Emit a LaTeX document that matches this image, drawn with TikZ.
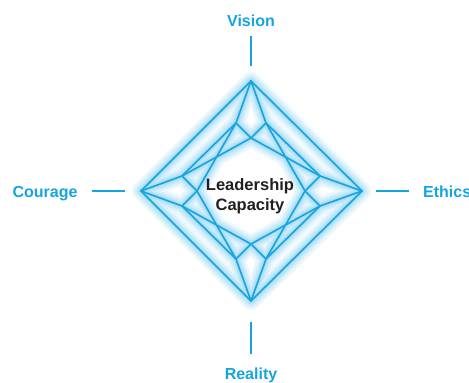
\documentclass[tikz,border=0pt]{standalone}
\usepackage{fontspec}
\setmainfont{Liberation Sans}
\usepackage{tikz}
\definecolor{gemblue}{RGB}{22,164,224}
\definecolor{darktext}{RGB}{35,31,32}

\begin{document}
\begin{tikzpicture}[line cap=round,line join=round,x=1pt,y=1pt,
  facet/.style={color=gemblue,line width=1.6pt},
  glow/.style={color=gemblue,line width=#1,opacity=0.09},
  valuename/.style={color=gemblue,font=\fontsize{16}{19}\selectfont\bfseries,inner sep=0pt},
  tick/.style={color=gemblue,line width=1.8pt,line cap=butt}]
\useasboundingbox (-251,-192) rectangle (218,191);

%kulmat
\coordinate (T) at (0,110);
\coordinate (R) at (111,0);
\coordinate (B) at (0,-110);
\coordinate (L) at (-110,0);
%renkaan pisteet
\coordinate (tl) at (-15,68);
\coordinate (tr) at (15,68);
\coordinate (rt) at (69,15);
\coordinate (rb) at (69,-15);
\coordinate (br) at (15,-68);
\coordinate (bl) at (-15,-68);
\coordinate (lb) at (-69,-15);
\coordinate (lt) at (-69,15);
%poyta
\coordinate (xt) at (0,53);
\coordinate (xr) at (54,0);
\coordinate (xb) at (0,-53);
\coordinate (xl) at (-54,0);

\def\gemedges{T/R,R/B,B/L,L/T,
  T/tl,tl/lt,lt/L,L/lb,lb/bl,bl/B,B/br,br/rb,rb/R,R/rt,rt/tr,tr/T,
  xt/tl,xt/tr,xt/lt,xt/rt,
  xl/lt,xl/lb,xl/tl,xl/bl,
  xb/bl,xb/br,xb/lb,xb/rb,
  xr/rt,xr/rb,xr/tr,xr/br}

%hehku
\foreach \w in {18,13,9,6,3.5}
{
\draw[glow=\w pt] \foreach \a/\b in \gemedges {(\a) -- (\b)};
}
%viivat
\foreach \a/\b in \gemedges
  \draw[facet] (\a) -- (\b);

\node[color=darktext,font=\fontsize{16.5}{20}\selectfont\bfseries,align=center] (core) at (-1,-5.5) {Leadership\\Capacity};

\node[valuename] (vision) at (0,170.5) {Vision};
\node[valuename] (courage) at (-206,-2.5) {Courage};
\node[valuename,anchor=west] (ethics) at (172,-1) {Ethics};
\node[valuename] (reality) at (0,-184) {Reality};

\draw[tick,shorten <=9.5pt,shorten >=15pt] (vision) -- (T);
\draw[tick,shorten <=14pt,shorten >=16pt] (courage.east |- L) -- (L);
\draw[tick,shorten <=14pt,shorten >=14pt] (ethics.west |- R) -- (R);
\draw[tick,shorten <=13pt,shorten >=21pt] (reality) -- (B);
\end{tikzpicture}
\end{document}
